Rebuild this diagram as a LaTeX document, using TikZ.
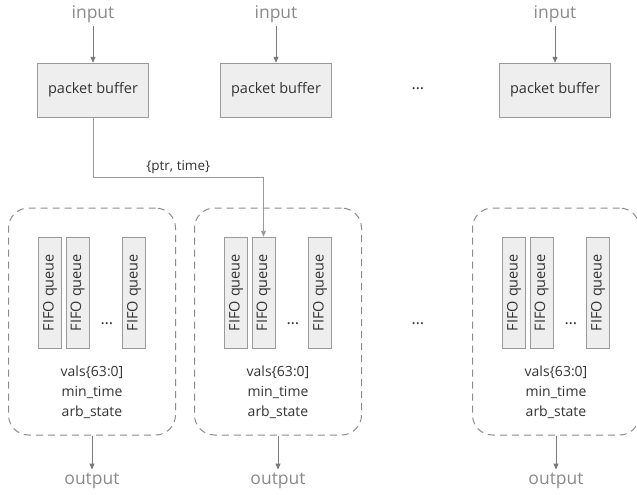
\documentclass[tikz,border=0pt]{standalone}
\usepackage{fontspec}
\setmainfont{Open Sans}
\usetikzlibrary{arrows.meta, positioning}

\definecolor{boxfill}{HTML}{EEEEEE}
\definecolor{boxline}{HTML}{9A9A9A}
\definecolor{wire}{HTML}{7A7A7A}
\definecolor{portgray}{HTML}{8A8A8A}
\definecolor{dashline}{HTML}{8C8C8C}
\definecolor{ink}{HTML}{333333}

\begin{document}
\begin{tikzpicture}[
      x = 1pt, y = -1pt,
      >={Triangle[length=6pt, width=5pt]},
      every node/.style={text = ink},
      buffer/.style={
        draw = boxline,
        fill = boxfill,
        minimum width = 111pt,
        minimum height = 54pt,
        font = \fontsize{14.5}{17}\selectfont,
      },
      fifo/.style={
        draw = boxline,
        fill = boxfill,
        rotate = 90,
        minimum width = 111pt,
        minimum height = 23pt,
        inner sep = 0pt,
        font = \fontsize{14.5}{17}\selectfont,
      },
      group/.style={
        draw = dashline,
        line width = 1pt,
        dash pattern = on 7pt off 5pt,
        rounded corners = 20pt,
        minimum width = 167pt,
        minimum height = 227pt,
      },
      port/.style={
        text = portgray,
        font = \fontsize{17.5}{20}\selectfont,
      },
      flow/.style={
        ->,
        draw = wire,
        line width = 1pt,
      },
      dots/.style={
        font = \fontsize{16}{18}\selectfont,
      },
    ]
    \useasboundingbox (0,0) rectangle (637,495);
    \clip (0,0) rectangle (637,495);

    % input side: one packet buffer per port
    \foreach \i/\x in {1/93, 2/276, 3/555} {
      \node[port] (in-\i) at (\x,14) {input};
      \node[buffer] (buf-\i) at (\x,90) {packet buffer};
      \draw[flow] (in-\i) -- (buf-\i);
    }
    \node[dots] (buf-dots) at (418,89) {\dots};

    % output side: queues plus arbiter state per port
    \foreach \i/\x in {1/92, 2/278, 3/556} {
      \node[group] (grp-\i) at (\x,321.5) {};
      \node[fifo] (q-\i-1) at (\x-42,292.5) {FIFO queue};
      \node[fifo] (q-\i-2) at (\x-14.5,292.5) {FIFO queue};
      \node[fifo] (q-\i-3) at (\x+42,292.5) {FIFO queue};
      \node[dots] (q-\i-dots) at (\x+15,324) {\dots};
      \node[align = center, font = \fontsize{14}{20}\selectfont]
        (st-\i) at (\x,392) {vals\{63:0]\\min\_time\\arb\_state};
      \node[port] (out-\i) at (\x,481) {output};
      \draw[flow] (grp-\i) -- (out-\i);
    }
    \node[dots] (grp-dots) at (418,324) {\dots};

    % pointer written from buffer 1 into a queue of port 2
    \draw[->, draw = boxline, line width = 0.9pt] (buf-1.south) -- ++(0,60)
      -| (q-2-2.east)
      node[pos = 0.25, above, font = \fontsize{13.5}{16}\selectfont]
        {\{ptr, time\}};
  \end{tikzpicture}
\end{document}
